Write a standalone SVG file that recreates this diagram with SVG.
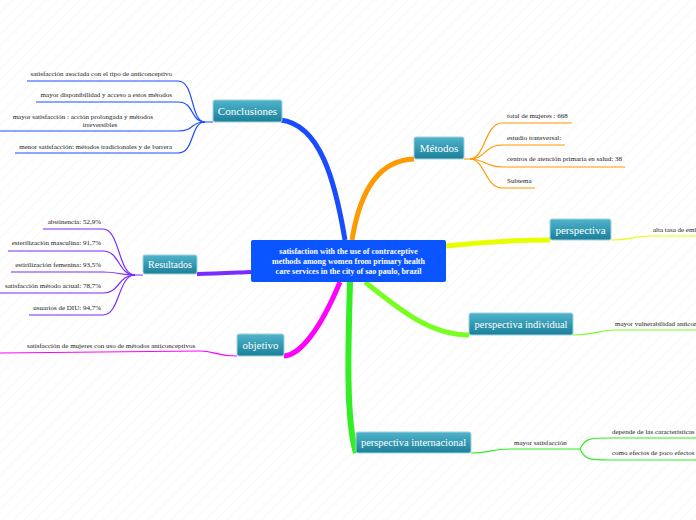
<svg xmlns="http://www.w3.org/2000/svg" width="696" height="520" viewBox="0 0 696 520">
<style>
.n rect{fill:url(#tg);stroke:#9fd3e0;stroke-width:1}
.n text{font-family:"Liberation Serif",serif;font-size:11px;fill:#fff;text-anchor:middle}
.l{font-family:"Liberation Serif",serif;font-size:7px;fill:#222}
.c path{fill:none}
</style>
<defs>
<linearGradient id="tg" x1="0" y1="0" x2="0" y2="1"><stop offset="0" stop-color="#4fb4cc"/><stop offset="1" stop-color="#1b7f99"/></linearGradient>
<pattern id="bg" width="8" height="8" patternUnits="userSpaceOnUse" patternTransform="rotate(-45)"><rect width="8" height="8" fill="#fff"/><line x1="0" y1="0" x2="8" y2="0" stroke="#f2f2f2" stroke-width="1"/></pattern>
</defs>
<rect width="696" height="520" fill="url(#bg)"/>
<g class="c" id="connectors">
<path d="M345 240 C335 180 320 125 281 120" stroke="#1a4cff" stroke-width="5"/>
<path d="M352 240 C360 190 380 160 414 159" stroke="#ff9900" stroke-width="5"/>
<path d="M446 246 C500 240 530 240 550 240" stroke="#e8ff00" stroke-width="5"/>
<path d="M251 272 C230 273 215 274 197 274" stroke="#7a2bff" stroke-width="4"/>
<path d="M340 282 C320 330 300 355 284 356" stroke="#ff00ff" stroke-width="5"/>
<path d="M365 282 C400 310 430 335 469 335" stroke="#77ff22" stroke-width="5"/>
<path d="M350 282 C348 350 346 420 356 453" stroke="#33ee22" stroke-width="6"/>
<g stroke="#1a4cff" stroke-width="1.2">
<path d="M213 122 L205 122 C190 122 195 81 178 81 L27 81"/>
<path d="M205 122 C190 122 195 102 178 102 L36 102"/>
<path d="M205 122 C190 122 195 131 178 131 L0 131"/>
<path d="M205 122 C190 122 195 153 178 153 L15 153"/>
</g>
<g stroke="#7a2bff" stroke-width="1.2">
<path d="M143 275 L135 275 C118 275 120 229 103 229 L43 229"/>
<path d="M135 275 C118 275 120 251 103 251 L8 251"/>
<path d="M135 275 C118 275 120 272 103 272 L11 272"/>
<path d="M135 275 C118 275 120 293 103 293 L0 293"/>
<path d="M135 275 C118 275 120 315 103 315 L29 315"/>
</g>
<path d="M237 356 C215 356 215 351 200 351 L0 353" stroke="#ff00ff" stroke-width="1.2"/>
<g stroke="#ff9900" stroke-width="1.2">
<path d="M464 159 L470 159 C485 159 485 123 502 123 L572 123"/>
<path d="M470 159 C485 159 485 145 502 145 L565 145"/>
<path d="M470 159 C485 159 485 167 502 167 L625 167"/>
<path d="M470 159 C485 159 485 188 502 188 L535 188"/>
</g>
<path d="M611 240 C630 240 635 236 650 236 L696 236" stroke="#e8ff00" stroke-width="1.2"/>
<path d="M573 335 C595 335 600 330 615 330 L696 330" stroke="#77ff22" stroke-width="1.2"/>
<g stroke="#33ee22" stroke-width="1.2">
<path d="M471 453 C490 453 490 449 510 449 L580 449"/>
<path d="M580 449 C585 438 590 438 610 438 L696 438"/>
<path d="M580 449 C585 460 590 460 610 460 L696 460"/>
</g>
</g>
<g id="center"><rect x="251" y="240" width="195" height="42" rx="2" fill="#0a55ff"/>
<text font-family="Liberation Serif,serif" font-size="8px" font-weight="bold" fill="#fff" text-anchor="middle"><tspan x="348.5" y="254">satisfaction with the use of contraceptive</tspan><tspan x="348.5" y="264">methods among women from primary health</tspan><tspan x="348.5" y="274">care services in the city of sao paulo, brazil</tspan></text></g>
<g class="n" id="conclusiones"><rect x="213" y="100" width="69" height="22" rx="2"/><text x="247.5" y="115">Conclusiones</text></g>
<g class="n" id="resultados"><rect x="143" y="255" width="54" height="19" rx="2"/><text x="170" y="268" style="font-size:10px">Resultados</text></g>
<g class="n" id="objetivo"><rect x="237" y="334" width="47" height="22" rx="2"/><text x="260.5" y="349">objetivo</text></g>
<g class="n" id="metodos"><rect x="414" y="137" width="50" height="22" rx="2"/><text x="439" y="152">Métodos</text></g>
<g class="n" id="perspectiva"><rect x="550" y="219" width="61" height="21" rx="2"/><text x="580.5" y="234">perspectiva</text></g>
<g class="n" id="perspectiva-individual"><rect x="469" y="313" width="104" height="22" rx="2"/><text x="521" y="328" style="font-size:10.5px">perspectiva individual</text></g>
<g class="n" id="perspectiva-internacional"><rect x="356" y="432" width="115" height="21" rx="2"/><text x="413.5" y="446" style="font-size:10.5px">perspectiva internacional</text></g>
<g id="leaves">
<text class="l" x="172" y="76" text-anchor="end">satisfacción asociada con el tipo de anticonceptivo</text>
<text class="l" x="172" y="97" text-anchor="end">mayor disponibilidad y acceso a estos métodos</text>
<text class="l" x="153" y="119" text-anchor="end">mayor satisfacción : acción prolongada y métodos</text>
<text class="l" x="100" y="127" text-anchor="middle">irreversibles</text>
<text class="l" x="172" y="149" text-anchor="end">menor satisfacción: métodos tradicionales y de barrera</text>
<text class="l" x="101" y="224" text-anchor="end">abstinencia: 52,9%</text>
<text class="l" x="101" y="245" text-anchor="end">esterilización masculina: 91,7%</text>
<text class="l" x="101" y="267" text-anchor="end">estirilización femenina: 93,5%</text>
<text class="l" x="101" y="288" text-anchor="end">satisfacción método actual: 78,7%</text>
<text class="l" x="101" y="310" text-anchor="end">usuarios de DIU: 94,7%</text>
<text class="l" x="27" y="348">satisfacción de mujeres con uso de métodos anticonceptivos</text>
<text class="l" x="507" y="118">total de mujeres : 668</text>
<text class="l" x="507" y="140">estudio transversal:</text>
<text class="l" x="507" y="161">centros de atención primaria en salud: 38</text>
<text class="l" x="507" y="183">Subtema</text>
<text class="l" x="653" y="232">alta tasa de emb</text>
<text class="l" x="615" y="326">mayor vulnerabilidad anticon</text>
<text class="l" x="514" y="445">mayor satisfacción</text>
<text class="l" x="612" y="434">depende de las caracteristicas</text>
<text class="l" x="612" y="455">como efectos de poco efectos</text>
</g>
</svg>
